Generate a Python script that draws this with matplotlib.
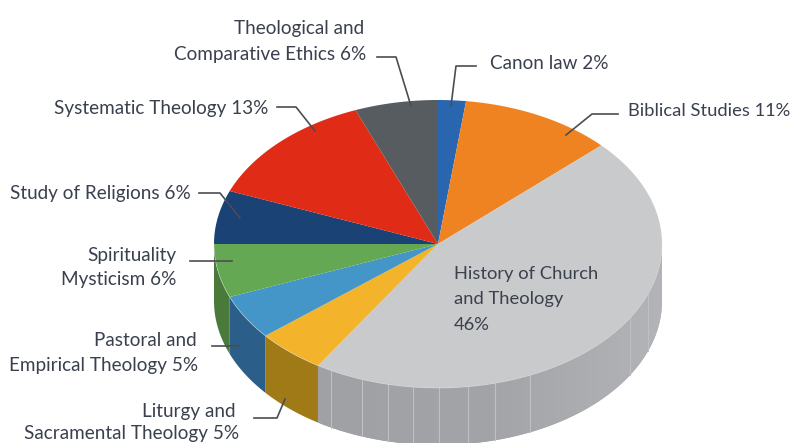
import numpy as np
import matplotlib
matplotlib.use('Agg')
import matplotlib.pyplot as plt
from matplotlib.colors import LinearSegmentedColormap

# slices, clockwise from 12 o'clock
names = ['Canon law', 'Biblical Studies', 'History of Church and Theology',
         'Liturgy and Sacramental Theology', 'Pastoral and Empirical Theology',
         'Spirituality Mysticism', 'Study of Religions', 'Systematic Theology',
         'Theological and Comparative Ethics']
shares = [2, 11, 46, 5, 5, 6, 6, 13, 6]
top_colors = ['#2a66b0', '#ef8322', '#c9cacc', '#f3b42c', '#4596c8',
              '#65a853', '#1b4274', '#e02b17', '#565c5f']
side_colors = ['#1d4a80', '#b56318', '#a5a6aa', '#a07a16', '#2b5f8a',
               '#4a7a3a', '#14325a', '#a82010', '#404548']

# picture geometry in pixels
cx, cy = 438, 244
rx, ry = 224, 144
depth = 57
seams = [331, 362, 388, 413, 439, 468, 495, 530, 630, 648]

plt.rcParams['font.family'] = ['Lato', 'DejaVu Sans']
text_color = '#3a404d'
line_color = '#4a4d52'

fig = plt.figure(figsize=(7.91, 4.43), dpi=100)
ax = fig.add_axes([0, 0, 1, 1])


def rim(deg):
    t = np.radians(deg)
    return cx + rx * np.sin(t), cy - ry * np.cos(t)


edges = np.cumsum([0] + shares) * 3.6

# side wall, only the front half can be seen
for i in range(len(shares)):
    a = max(edges[i], 90)
    b = min(edges[i + 1], 270)
    if b <= a:
        continue
    x, y = rim(np.linspace(a, b, 120))
    poly = ax.fill(np.r_[x, x[::-1]], np.r_[y, y[::-1] + depth],
                   color=side_colors[i], lw=0, zorder=1)[0]
    # grey wall gets lighter to the right
    if names[i].startswith('History'):
        wall = LinearSegmentedColormap.from_list('wall', ['#a0a1a5', '#a3a4a8', '#b3b4b8'])
        im = ax.imshow(np.linspace(0, 1, 256)[None, :], cmap=wall, aspect='auto', zorder=1.5,
                       extent=(x.min(), x.max(), 443, 230))
        im.set_clip_path(poly)

ax.set_xlim(0, 791)
ax.set_ylim(443, 0)
ax.axis('off')

# pale seams in the grey wall
for sx in seams:
    y0 = cy + ry * np.sqrt(1 - ((sx - cx) / rx) ** 2)
    ax.plot([sx, sx], [y0, y0 + depth], color='#bfc0c3', lw=0.8, zorder=2)

# top face
for i in range(len(shares)):
    x, y = rim(np.linspace(edges[i], edges[i + 1], 120))
    ax.fill(np.r_[cx, x], np.r_[cy, y], color=top_colors[i], lw=0, zorder=3)
x, y = rim(np.linspace(90, 270, 200))
ax.plot(x, y, color='#dcdcde', lw=0.5, zorder=4, alpha=0.6)

# labels, one entry per line of text
labels = [
    ('Theological and', 364, 28, 'right', 13.6),
    ('Comparative Ethics 6%', 366, 54, 'right', 13.6),
    ('Canon law 2%', 490, 63, 'left', 13.6),
    ('Biblical Studies 11%', 628, 111, 'left', 13.2),
    ('Systematic Theology 13%', 268, 108, 'right', 13.6),
    ('Study of Religions 6%', 191, 193, 'right', 13.6),
    ('Spirituality', 176, 255, 'right', 13.6),
    ('Mysticism 6%', 176, 280, 'right', 13.6),
    ('Pastoral and', 197, 341, 'right', 13.6),
    ('Empirical Theology 5%', 198, 365, 'right', 13.6),
    ('Liturgy and', 236, 412, 'right', 13.6),
    ('Sacramental Theology 5%', 239, 434, 'right', 13.6),
    ('History of Church', 454, 274, 'left', 13.2),
    ('and Theology', 454, 299, 'left', 13.2),
    ('46%', 454, 325, 'left', 13.2),
]
for s, lx, ly, ha, size in labels:
    ax.text(lx, ly, s, ha=ha, va='center', fontsize=size, color=text_color, zorder=6)

leaders = [
    [(377, 57), (396, 57), (411, 106)],
    [(476, 66), (456, 66), (451, 106)],
    [(618, 114), (592, 114), (566, 135)],
    [(277, 107), (296, 107), (315, 131)],
    [(199, 193), (220, 193), (240, 218)],
    [(190, 261), (232, 261)],
    [(212, 346), (240, 346)],
    [(254, 418), (277, 418), (285, 399)],
]
for pts in leaders:
    ax.plot([p[0] for p in pts], [p[1] for p in pts], color=line_color, lw=1.2, zorder=5)

fig.savefig('out.png', dpi=100)
